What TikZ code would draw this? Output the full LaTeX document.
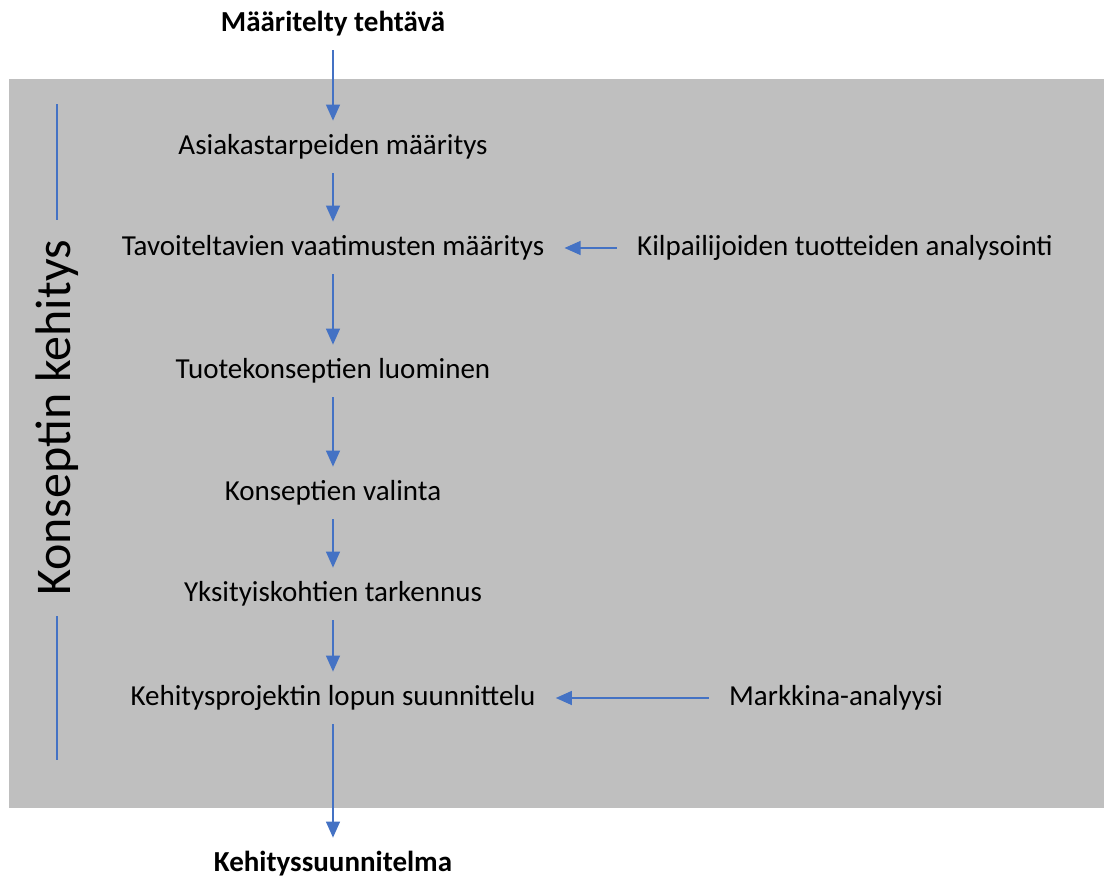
\documentclass[tikz,border=0pt]{standalone}
\usepackage{fontspec}
\setmainfont{Carlito}
\usetikzlibrary{arrows.meta,positioning}

\definecolor{panelgray}{HTML}{BFBFBF}
\definecolor{flowblue}{HTML}{4472C4}

\begin{document}
\begin{tikzpicture}[x=0.5pt,y=-0.5pt]
                \tikzset{step box/.style={inner xsep=10pt, inner ysep=0pt, minimum height=26pt,
                text height=1.9ex, text depth=.3ex, font=\fontsize{14.5}{17}\selectfont},
                end box/.style={step box, font=\fontsize{14.5}{17}\selectfont\bfseries},
                flow/.style={draw=flowblue, line width=0.6pt, -{Triangle[length=8pt,width=7pt]}},
                rule/.style={draw=flowblue, line width=0.6pt}}

                \useasboundingbox (0,0) rectangle (1104,876);
                \fill[panelgray] (9,79) rectangle (1104,808);

                % main chain
                \node[end box] (task) at (333,24) {Määritelty tehtävä};
                \node[step box] (needs) at (333,147) {Asiakastarpeiden määritys};
                \node[step box] (reqs) at (333,248) {Tavoiteltavien vaatimusten määritys};
                \node[step box] (create) at (333,371) {Tuotekonseptien luominen};
                \node[step box] (select) at (333,493) {Konseptien valinta};
                \node[step box] (detail) at (333,594) {Yksityiskohtien tarkennus};
                \node[step box] (plan) at (333,698) {Kehitysprojektin lopun suunnittelu};
                \node[end box] (result) at (333,864) {Kehityssuunnitelma};

                % side inputs
                \node[step box] (rivals) at (845,248) {Kilpailijoiden tuotteiden analysointi};
                \node[step box] (market) at (836,698) {Markkina-analyysi};

                \draw[flow] (task) -- (needs);
                \draw[flow] (needs) -- (reqs);
                \draw[flow] (reqs) -- (create);
                \draw[flow] (create) -- (select);
                \draw[flow] (select) -- (detail);
                \draw[flow] (detail) -- (plan);
                \draw[flow] (plan) -- (result);
                \draw[flow] (rivals) -- (reqs);
                \draw[flow] (market) -- (plan);

                % phase label
                \node[rotate=90, inner xsep=10pt, font=\fontsize{25}{30}\selectfont] (phase) at (57,418) {Konseptin kehitys};
                \coordinate (ruletop) at (57,104);
                \coordinate (rulebot) at (57,760);
                \draw[rule] (phase.east) -- (ruletop);
                \draw[rule] (phase.west) -- (rulebot);
            \end{tikzpicture}
\end{document}
